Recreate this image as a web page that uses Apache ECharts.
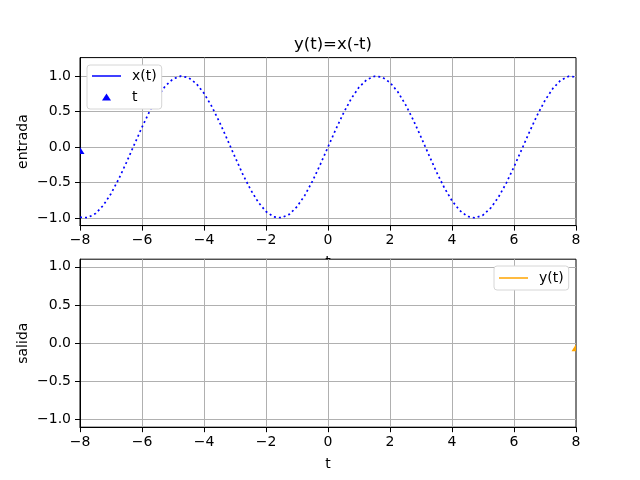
<!DOCTYPE html>
<html>
<head>
<meta charset="utf-8">
<script src="https://cdn.jsdelivr.net/npm/echarts@6/dist/echarts.min.js"></script>
<style>html,body{margin:0;padding:0;background:#fff}#c{width:640px;height:480px}</style>
</head>
<body>
<div id="c"></div>
<script>
// ---- data ----
const tValues = [-8,-7.75,-7.5,-7.25,-7,-6.75,-6.5,-6.25,-6,-5.75,-5.5,-5.25,-5,-4.75,-4.5,-4.25,-4,-3.75,-3.5,-3.25,-3,-2.75,-2.5,-2.25,-2,-1.75,-1.5,-1.25,-1,-0.75,-0.5,-0.25,0,0.25,0.5,0.75,1,1.25,1.5,1.75,2,2.25,2.5,2.75,3,3.25,3.5,3.75,4,4.25,4.5,4.75,5,5.25,5.5,5.75,6,6.25,6.5,6.75,7,7.25,7.5,7.75,8];
const xValues = [-0.989,-0.995,-0.938,-0.823,-0.657,-0.450,-0.215,0.033,0.279,0.508,0.706,0.859,0.959,0.999,0.978,0.895,0.757,0.572,0.351,0.108,-0.141,-0.382,-0.598,-0.778,-0.909,-0.984,-0.997,-0.949,-0.841,-0.682,-0.479,-0.247,0,0.247,0.479,0.682,0.841,0.949,0.997,0.984,0.909,0.778,0.598,0.382,0.141,-0.108,-0.351,-0.572,-0.757,-0.895,-0.978,-0.999,-0.959,-0.859,-0.706,-0.508,-0.279,-0.033,0.215,0.450,0.657,0.823,0.938,0.995,0.989];
const tMarker = [[-8, -0.05]];
const yMarker = [[8, -0.06]];
const yOut = [];
const yTicks = [-1, -0.5, 0, 0.5, 1];
const xTicks = { min: -8, max: 8, step: 2 };
const titleText = 'y(t)=x(-t)';

const FONT = 'DejaVu Sans';
const chart = echarts.init(document.getElementById('c'), null, {renderer: 'canvas'});

function xAxisCfg(gi, z, name) {
  return {
    type: 'value', gridIndex: gi, min: xTicks.min, max: xTicks.max, interval: xTicks.step, z: z,
    name: name, nameLocation: 'middle', nameGap: 30, nameMoveOverlap: false,
    nameTextStyle: {fontFamily: FONT, fontSize: 14, color: '#000'},
    axisLine: {show: true, onZero: false, lineStyle: {color: '#000', width: 1}},
    axisTick: {show: true, inside: false, length: 5, lineStyle: {color: '#000', width: 1}},
    axisLabel: {show: true, margin: 8, fontFamily: FONT, fontSize: 14, color: '#000',
      formatter: v => (v < 0 ? '\u2212' + Math.abs(v) : String(v))},
    splitLine: {show: true, showMinLine: false, showMaxLine: false, lineStyle: {color: '#b0b0b0', width: 1}}
  };
}
function yAxisCfg(gi, z, name, mn, mx) {
  return {
    type: 'value', gridIndex: gi, min: mn, max: mx, z: z,
    name: name, nameLocation: 'middle', nameGap: 50, nameRotate: 90, nameMoveOverlap: false,
    nameTextStyle: {fontFamily: FONT, fontSize: 14, color: '#000'},
    axisLine: {show: true, onZero: false, lineStyle: {color: '#000', width: 1}},
    axisTick: {show: true, inside: false, length: 5, customValues: yTicks, lineStyle: {color: '#000', width: 1}},
    axisLabel: {show: true, margin: 9, fontFamily: FONT, fontSize: 14, color: '#000', customValues: yTicks,
      formatter: v => (v < 0 ? '\u2212' + Math.abs(v).toFixed(1) : v.toFixed(1))},
    splitLine: {show: true, lineStyle: {color: '#b0b0b0', width: 1}}
  };
}

const LINE_ICON = 'path://M0,6.25H29V7.75H0Z M0,0 M29,14';
const TRI_ICON = 'path://M14.5,3.5L19,10.5L10,10.5Z M0,0 M29,14';

const legendBase = {
  orient: 'vertical', itemWidth: 29, itemHeight: 14, itemGap: 7,
  backgroundColor: '#fff', borderColor: '#d6d6d6', borderWidth: 1, borderRadius: 3,
  textStyle: {fontFamily: FONT, fontSize: 14, color: '#000', padding: [0, 0, 0, 6]},
  selectedMode: false
};

chart.setOption({
  animation: false,
  backgroundColor: '#fff',
  title: {text: titleText, left: 328, top: 31, textAlign: 'center',
    textStyle: {fontFamily: FONT, fontSize: 16.5, fontWeight: 'normal', color: '#000'}},
  grid: [
    {left: 80, top: 57.6, width: 496, height: 168, show: true, borderColor: '#000', borderWidth: 1, backgroundColor: '#fff', z: 0},
    {left: 80, top: 259.2, width: 496, height: 168, show: true, borderColor: '#000', borderWidth: 1, backgroundColor: '#fff', z: 1}
  ],
  xAxis: [xAxisCfg(0, 0, 't'), xAxisCfg(1, 2, 't')],
  yAxis: [yAxisCfg(0, 0, 'entrada', -1.107, 1.26), yAxisCfg(1, 2, 'salida', -1.1, 1.1)],
  legend: [
    Object.assign({}, legendBase, {left: 87, top: 65, padding: [4, 5, 5, 5],
      data: [
        {name: 'x(t)', icon: LINE_ICON},
        {name: 't', icon: TRI_ICON}
      ]}),
    Object.assign({}, legendBase, {left: 494, top: 266, padding: [5, 5, 5, 5],
      data: [{name: 'y(t)', icon: LINE_ICON}]})
  ],
  series: [
    {name: 'x(t)', type: 'line', xAxisIndex: 0, yAxisIndex: 0, symbol: 'none', z: 3,
      color: '#0000ff',
      data: tValues.map((t, i) => [t, xValues[i]]),
      lineStyle: {color: '#0000ff', width: 1.7, type: [2, 3]}},
    {name: 't', type: 'scatter', xAxisIndex: 0, yAxisIndex: 0, z: 4, color: '#0000ff',
      symbol: 'path://M0,0L1,2L0,2Z', symbolSize: [4.5, 7], symbolOffset: [2.25, 0],
      itemStyle: {color: '#0000ff', opacity: 1}, data: tMarker},
    {name: 'y(t)', type: 'line', xAxisIndex: 1, yAxisIndex: 1, symbol: 'none', z: 3,
      color: '#ffa500', lineStyle: {color: '#ffa500', width: 1.5}, data: yOut},
    {name: 'y marker', type: 'scatter', xAxisIndex: 1, yAxisIndex: 1, z: 4, color: '#ffa500',
      symbol: 'path://M1,0L1,2L0,2Z', symbolSize: [4.5, 7], symbolOffset: [-2.25, 0],
      itemStyle: {color: '#ffa500', opacity: 1}, data: yMarker}
  ]
});
</script>
</body>
</html>
